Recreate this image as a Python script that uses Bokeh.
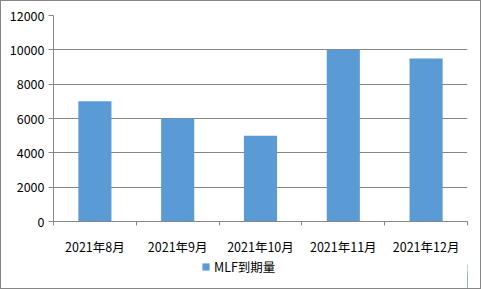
from bokeh.plotting import figure
from bokeh.layouts import column
from bokeh.models import FixedTicker, Legend, LegendItem, Range1d
from bokeh.embed import file_html
from bokeh.resources import INLINE

categories = ["2021年8月", "2021年9月", "2021年10月", "2021年11月", "2021年12月"]
mlf_values = [7000, 6000, 5000, 10000, 9500]
y_ticks = [0, 2000, 4000, 6000, 8000, 10000, 12000]
series_name = "MLF到期量"

FONT = "Noto Sans CJK SC"
GRAY = "#868686"
BLUE = "#5B9BD5"

n = len(categories)
xs = [i + 0.5 for i in range(n)]

p = figure(width=479, height=257, output_backend="svg", toolbar_location=None,
           x_range=Range1d(0, n), y_range=Range1d(0, 12000),
           min_border_left=52, min_border_right=13, min_border_top=14, min_border_bottom=37)
p.outline_line_color = None
p.background_fill_color = "white"
p.border_fill_color = "white"

r = p.vbar(x=xs, top=mlf_values, width=0.4, fill_color=BLUE, line_color=None)

# x axis: labels at category centres, tick marks at category boundaries
p.xaxis.ticker = FixedTicker(ticks=xs, minor_ticks=list(range(n + 1)))
p.xaxis.major_label_overrides = {x: c for x, c in zip(xs, categories)}
p.xaxis.major_tick_out = 0
p.xaxis.major_tick_in = 0
p.xaxis.minor_tick_out = 4
p.xaxis.minor_tick_in = 0
p.xaxis.minor_tick_line_color = GRAY
p.xaxis.axis_line_color = GRAY
p.xaxis.major_label_standoff = 11
p.xaxis.major_label_text_font = FONT
p.xaxis.major_label_text_font_size = "12.5px"
p.xaxis.major_label_text_color = "black"

p.yaxis.ticker = FixedTicker(ticks=y_ticks)
p.yaxis.major_tick_out = 5
p.yaxis.major_tick_in = 0
p.yaxis.minor_tick_line_color = None
p.yaxis.major_tick_line_color = GRAY
p.yaxis.axis_line_color = GRAY
p.yaxis.major_label_standoff = 4
p.yaxis.major_label_text_font = FONT
p.yaxis.major_label_text_font_size = "12.5px"
p.yaxis.major_label_text_color = "black"

p.xgrid.grid_line_color = None
p.ygrid.grid_line_color = GRAY
p.ygrid.ticker = FixedTicker(ticks=y_ticks)

# legend strip below the chart (its bars lie outside its view; only the legend shows)
lf = figure(width=479, height=30, output_backend="svg", toolbar_location=None,
            x_range=Range1d(-20, -19), y_range=Range1d(0, 12000),
            x_axis_location=None, y_axis_location=None,
            min_border=0, min_border_left=0, min_border_right=0,
            min_border_top=0, min_border_bottom=0)
lf.grid.visible = False
lf.outline_line_color = None
lf.border_fill_color = "white"
lf.background_fill_color = "white"
lr = lf.vbar(x=xs, top=mlf_values, width=0.4, fill_color=BLUE, line_color=None)

legend = Legend(items=[LegendItem(label=series_name, renderers=[lr])],
                location=(148, 12), orientation="horizontal",
                glyph_width=9, glyph_height=9, label_height=9, label_standoff=4,
                padding=0, margin=0, border_line_color=None,
                background_fill_alpha=0,
                label_text_font=FONT, label_text_font_size="12.5px",
                label_text_color="black")
lf.add_layout(legend, "center")

layout = column(p, lf, spacing=0)
layout.styles = {"border": "1px solid " + GRAY, "background-color": "white"}

open("out.html", "w").write(file_html(layout, INLINE))
